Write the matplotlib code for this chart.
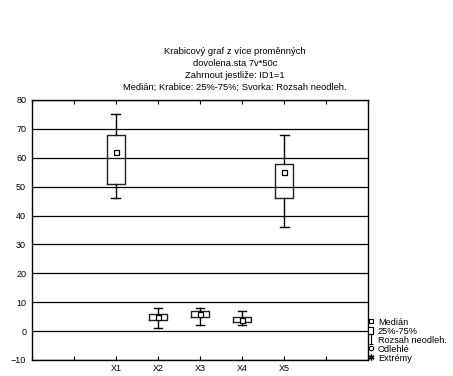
import matplotlib.pyplot as plt
from matplotlib.lines import Line2D
from matplotlib.patches import Patch
from matplotlib.path import Path

plt.rcParams['font.family'] = ['Liberation Sans', 'DejaVu Sans']

# values
names = ['X1', 'X2', 'X3', 'X4', 'X5']
medians = [62, 5, 6, 4, 55]
q1 = [51, 4, 5, 3, 46]
q3 = [68, 6, 7, 5, 58]
whis_lo = [46, 1, 2, 2, 36]
whis_hi = [75, 8, 8, 7, 68]
positions = [2, 3, 4, 5, 6]

title_lines = ['Krabicový graf z více proměnných',
               'dovolena.sta 7v*50c',
               'Zahrnout jestliže: ID1=1',
               'Medián; Krabice: 25%-75%; Svorka: Rozsah neodleh.']

fig = plt.figure(figsize=(4.53, 3.76), dpi=100)
ax = fig.add_axes([0.070, 0.0426, 0.743, 0.6915])

stats = []
for i in range(len(names)):
    stats.append({'med': medians[i], 'q1': q1[i], 'q3': q3[i],
                  'whislo': whis_lo[i], 'whishi': whis_hi[i], 'fliers': []})

ax.bxp(stats, positions=positions, widths=0.42, capwidths=0.21,
       showfliers=False, manage_ticks=False,
       boxprops=dict(color='#222222', linewidth=1.0),
       whiskerprops=dict(color='black', linewidth=1.0),
       capprops=dict(color='black', linewidth=1.0),
       medianprops=dict(linestyle='none'))
ax.plot(positions, medians, ls='none', marker='s', ms=3.6, mfc='white',
        mec='black', mew=0.9, zorder=5)

ax.set_xlim(0, 8)
ax.set_ylim(-10, 80)
ax.set_yticks(range(-10, 81, 10))
ax.set_xticks(range(9))
ax.set_xticklabels(['', ''] + names + ['', ''])
ax.yaxis.grid(True, color='black', linewidth=0.9)
ax.set_axisbelow(True)
ax.tick_params(axis='x', direction='in', length=3, top=True, pad=3,
               labelsize=6.5, width=0.8)
ax.tick_params(axis='y', direction='in', length=0, pad=4, labelsize=6.5)
for s in ax.spines.values():
    s.set_linewidth(1.0)

fig.text(0.519, 0.8146, '\n'.join(title_lines), ha='center', va='center',
         fontsize=6.75, linespacing=1.43)

# legend
whisker_marker = Path([(-0.5, 1), (0.5, 1), (0, 1), (0, -1), (-0.5, -1), (0.5, -1)],
                      [Path.MOVETO, Path.LINETO, Path.MOVETO, Path.LINETO,
                       Path.MOVETO, Path.LINETO])
handles = [
    Line2D([], [], ls='none', marker='s', ms=3.4, mfc='white', mec='black', mew=0.8),
    Patch(facecolor='white', edgecolor='black', linewidth=0.8),
    Line2D([], [], ls='none', marker=whisker_marker, ms=6.5, mec='black', mew=0.8),
    Line2D([], [], ls='none', marker='o', ms=3.2, mfc='white', mec='black', mew=0.8),
    Line2D([], [], ls='none', marker=(6, 2, 0), ms=4.2, mec='black', mew=1.0),
]
labels = ['Medián', '25%-75%', 'Rozsah neodleh.', 'Odlehlé', 'Extrémy']
ax.legend(handles, labels, loc='lower left', bbox_to_anchor=(1.0, -0.01),
          frameon=False, fontsize=6.6, handlelength=0.55, handleheight=0.75,
          handletextpad=0.5, labelspacing=0.0, borderaxespad=0, borderpad=0)

fig.savefig('out.png', dpi=100)
